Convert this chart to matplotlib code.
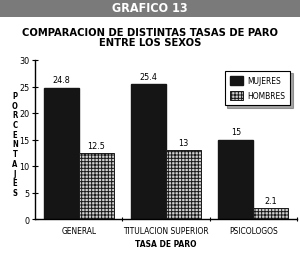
import numpy as np
import matplotlib
matplotlib.use('Agg')
from matplotlib import pyplot as plt
from matplotlib.patches import Rectangle

plt.rcParams['font.family'] = ['DejaVu Sans']
plt.rcParams['font.stretch'] = 'condensed'
plt.rcParams['hatch.color'] = '#1a1a1a'
plt.rcParams['hatch.linewidth'] = 0.7

categorias = ['GENERAL', 'TITULACION SUPERIOR', 'PSICOLOGOS']
mujeres = [24.8, 25.4, 15]
hombres = [12.5, 13, 2.1]
etiquetas_mujeres = ['24.8', '25.4', '15']
etiquetas_hombres = ['12.5', '13', '2.1']

fig = plt.figure(figsize=(3, 2.55), dpi=100)
fig.patch.set_facecolor('white')

# banda gris del titulo
fig.patches.append(Rectangle((0, 1 - 18 / 255), 1, 18 / 255, transform=fig.transFigure,
                             facecolor='#7a7a7a', edgecolor='none'))
fig.text(0.5, 1 - 9 / 255, 'GRAFICO 13', ha='center', va='center', color='white',
         fontsize=9, fontweight='bold')
fig.text(0.5, 1 - 38 / 255, 'COMPARACION DE DISTINTAS TASAS DE PARO\nENTRE LOS SEXOS',
         ha='center', va='center', fontsize=8, fontweight='bold', linespacing=1.0)

ax = fig.add_axes([35 / 300, 1 - 220 / 255, 262 / 300, 159 / 255])
xs = np.arange(len(categorias))
w = 0.4
b1 = ax.bar(xs - w / 2, mujeres, w, color='#151515', edgecolor='#151515', label='MUJERES')
b2 = ax.bar(xs + w / 2, hombres, w, color='#d0d0d0', edgecolor='#1a1a1a', hatch='+++++',
            linewidth=0.7, label='HOMBRES')

for x, v, t in zip(xs - w / 2, mujeres, etiquetas_mujeres):
    ax.text(x, v + 0.6, t, ha='center', va='bottom', fontsize=6.5)
for x, v, t in zip(xs + w / 2, hombres, etiquetas_hombres):
    ax.text(x, v + 0.6, t, ha='center', va='bottom', fontsize=6.5)

ax.set_xlim(-0.5, 2.5)
ax.set_ylim(0, 30)
ax.set_yticks(range(0, 31, 5))
ax.set_xticks(xs)
ax.set_xticklabels(categorias, fontsize=6)
ax.set_xticks([0.5, 1.5, 2.5], minor=True)
ax.tick_params(axis='x', which='major', length=0, pad=5)
ax.tick_params(axis='x', which='minor', length=3, direction='inout', width=0.8)
ax.tick_params(axis='y', length=4, direction='inout', width=0.8, labelsize=6.5, pad=2)
for s in ['top', 'right']:
    ax.spines[s].set_visible(False)
for s in ['left', 'bottom']:
    ax.spines[s].set_linewidth(1.0)

ax.set_xlabel('TASA DE PARO', fontsize=6, fontweight='bold', labelpad=3)

fig.text(15 / 300, 1 - 145 / 255, '\n'.join('PORCENTAJES'), ha='center', va='center',
         fontsize=5.5, fontweight='bold', linespacing=1.1)

leg = ax.legend(loc='upper right', bbox_to_anchor=(0.99, 0.96), fontsize=6,
                fancybox=False, shadow=True, framealpha=1, edgecolor='black',
                handlelength=1.6, handleheight=1.3, borderpad=0.6, labelspacing=0.7,
                handletextpad=0.5)
leg.get_frame().set_linewidth(0.8)

fig.savefig('out.png', dpi=100)
